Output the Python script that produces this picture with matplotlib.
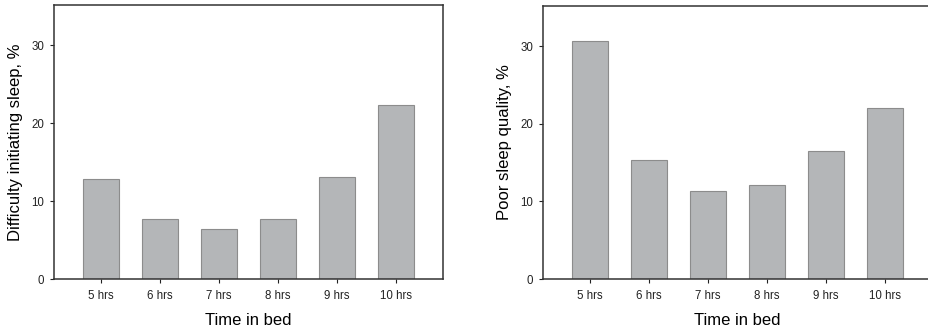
import matplotlib
matplotlib.use("Agg")
import matplotlib.pyplot as plt

plt.rcParams['font.family'] = ['Liberation Sans', 'DejaVu Sans']

categories = ['5 hrs', '6 hrs', '7 hrs', '8 hrs', '9 hrs', '10 hrs']
difficulty = [12.9, 7.7, 6.4, 7.7, 13.1, 22.4]
poor_quality = [30.7, 15.3, 11.4, 12.1, 16.5, 22.0]

W, H = 929, 330
fig = plt.figure(figsize=(W / 100, H / 100), dpi=100)

# axes boxes in pixels: left, top, width, height
boxes = [(54, 5, 389, 274), (543, 6, 389, 273)]
panels = [(difficulty, 'Difficulty initiating sleep, %'),
          (poor_quality, 'Poor sleep quality, %')]

for (l, t, w, h), (vals, ylab) in zip(boxes, panels):
    ax = fig.add_axes([l / W, 1 - (t + h) / H, w / W, h / H])
    x = range(len(categories))
    ax.bar(x, vals, width=0.61, color='#b4b6b8', edgecolor='#8c8c8c', linewidth=0.8)
    ax.set_xlim(-0.8, 5.8)
    ax.set_ylim(0, 35.2)
    ax.set_yticks([0, 10, 20, 30])
    ax.set_xticks(list(x))
    ax.set_xticklabels(categories)
    ax.tick_params(axis='both', direction='out', length=3, width=0.8,
                   colors='#222222', labelsize=8.3, pad=4)
    ax.tick_params(axis='x', pad=5)
    for s in ax.spines.values():
        s.set_color('#333333')
        s.set_linewidth(1.1)
    ax.set_ylabel(ylab, fontsize=12, labelpad=6)
    ax.set_xlabel('Time in bed', fontsize=12, labelpad=8)

fig.savefig('out.png', dpi=100)
